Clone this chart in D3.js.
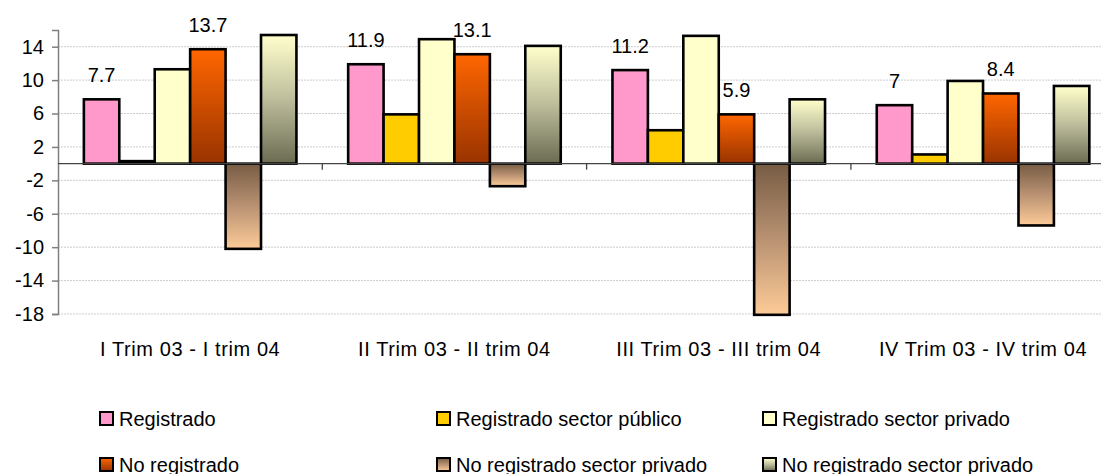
<!DOCTYPE html>
<html>
<head>
<meta charset="utf-8">
<script src="https://cdn.jsdelivr.net/npm/d3@7"></script>
<style>
  body { margin: 0; background: #fff; }
  text { font-family: Arial, "Liberation Sans", sans-serif; fill: #000; }
</style>
</head>
<body>
<svg width="1101" height="474"></svg>
<script>
// data
const categories = ["I Trim 03 - I trim 04", "II Trim 03 - II trim 04", "III Trim 03 - III trim 04", "IV Trim 03 - IV trim 04"]
const seriesNames = ["Registrado", "Registrado sector público", "Registrado sector privado", "No registrado", "No registrado sector privado", "No registrado sector privado"]
const registrado = [7.7, 11.9, 11.2, 7]
const regPublico = [0.3, 5.9, 4.0, 1.1]
const regPrivado = [11.3, 14.9, 15.3, 9.9]
const noRegistrado = [13.7, 13.1, 5.9, 8.4]
const noRegPrivado = [-10.2, -2.7, -18.1, -7.4]
const noRegPrivado2 = [15.4, 14.1, 7.7, 9.3]
const yTicks = [-18, -14, -10, -6, -2, 2, 6, 10, 14]

const seriesValues = [registrado, regPublico, regPrivado, noRegistrado, noRegPrivado, noRegPrivado2]
const labelled = [true, false, false, true, false, false]
const fills = ["#ff99cc", "#ffcc00", "#ffffcc", "url(#gOrange)", "url(#gBrown)", "url(#gGray)"]

const svg = d3.select("svg")

// gradients
const defs = svg.append("defs")
function grad(id, stops) {
  const g = defs.append("linearGradient").attr("id", id)
    .attr("x1", 0).attr("y1", 0).attr("x2", 0).attr("y2", 1)
  stops.forEach(s => g.append("stop").attr("offset", s[0]).attr("stop-color", s[1]))
}
grad("gOrange", [[0, "#ff6600"], [1, "#993300"]])
grad("gBrown", [[0, "#775c44"], [0.5, "#b99272"], [1, "#fdcb98"]])
grad("gGray", [[0, "#ffffcc"], [0.5, "#bdbd9c"], [1, "#6b6b52"]])

const y = d3.scaleLinear().domain([-18, 16]).range([314, 30])
const x0 = d3.scaleBand().domain(categories).range([58, 1115.2])
const x1 = d3.scaleBand().domain(d3.range(6)).range([0, x0.bandwidth()]).paddingOuter(0.73)

// gridlines
svg.append("g").selectAll("line").data(yTicks).join("line")
  .attr("x1", 58).attr("x2", 1101)
  .attr("y1", d => y(d)).attr("y2", d => y(d))
  .attr("stroke", "#cccccc").attr("stroke-width", 1)
  .attr("stroke-dasharray", "2,1")

// y axis (plain hyphen for negatives like the original)
const yAxis = svg.append("g").attr("transform", "translate(58,0)")
  .call(d3.axisLeft(y).tickValues(yTicks).tickSize(6).tickPadding(8).tickFormat(d => String(d)))
yAxis.select(".domain").attr("stroke", "#7f7f7f").attr("stroke-width", 1.5)
yAxis.selectAll(".tick line").attr("stroke", "#7f7f7f").attr("stroke-width", 1.5)
yAxis.selectAll("text").style("font-size", "20px").attr("fill", "#000")
  .style("font-family", "Arial, 'Liberation Sans', sans-serif")

// bars
const groups = svg.append("g").selectAll("g").data(categories).join("g")
  .attr("transform", d => `translate(${x0(d)},0)`)

groups.selectAll("rect")
  .data((c, ci) => seriesValues.map((vals, si) => ({ si: si, v: vals[ci] })))
  .join("rect")
  .attr("x", d => x1(d.si))
  .attr("width", x1.bandwidth())
  .attr("y", d => y(Math.max(0, d.v)))
  .attr("height", d => Math.abs(y(d.v) - y(0)))
  .attr("fill", d => fills[d.si])
  .attr("stroke", "#000")
  .attr("stroke-width", 2.6)

// data labels on Registrado and No registrado
groups.selectAll("text.lbl")
  .data((c, ci) => seriesValues.map((vals, si) => ({ si: si, v: vals[ci] })).filter(d => labelled[d.si]))
  .join("text").attr("class", "lbl")
  .attr("x", d => x1(d.si) + x1.bandwidth() / 2)
  .attr("y", d => y(d.v) - 17)
  .attr("text-anchor", "middle")
  .style("font-size", "20px")
  .text(d => d.v)

// zero line + category ticks
svg.append("line")
  .attr("x1", 58).attr("x2", 1101).attr("y1", y(0)).attr("y2", y(0))
  .attr("stroke", "#444").attr("stroke-width", 1.3)
svg.append("g").selectAll("line").data(categories.slice(1)).join("line")
  .attr("x1", d => x0(d)).attr("x2", d => x0(d))
  .attr("y1", y(0)).attr("y2", y(0) + 6)
  .attr("stroke", "#444").attr("stroke-width", 1.3)

// category labels
svg.append("g").selectAll("text").data(categories).join("text")
  .attr("x", d => x0(d) + x0.bandwidth() / 2)
  .attr("y", 356)
  .attr("text-anchor", "middle")
  .style("font-size", "20px")
  .style("letter-spacing", "0.6px")
  .text(d => d)

// legend
const legX = [100, 437, 763]
const legY = [412, 458]
const leg = svg.append("g").selectAll("g").data(seriesNames).join("g")
  .attr("transform", (d, i) => `translate(${legX[i % 3]},${legY[Math.floor(i / 3)]})`)
leg.append("rect").attr("width", 13).attr("height", 13)
  .attr("fill", (d, i) => fills[i]).attr("stroke", "#000").attr("stroke-width", 2)
leg.append("text").attr("x", 19).attr("y", 13.5)
  .style("font-size", "20px")
  .text(d => d)
</script>
</body>
</html>
